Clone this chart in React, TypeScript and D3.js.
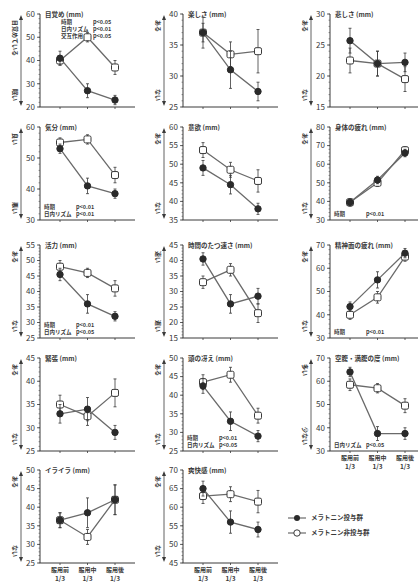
import React from "react";
import * as d3 from "d3";

const periods = ["服用前", "服用中", "服用後"];
const periodSub = "1/3";

const titles = [
  "目覚め (mm)", "楽しさ (mm)", "悲しさ (mm)",
  "気分 (mm)", "意欲 (mm)", "身体の疲れ (mm)",
  "活力 (mm)", "時間のたつ速さ (mm)", "精神面の疲れ (mm)",
  "緊張 (mm)", "頭の冴え (mm)", "空腹・満腹の度 (mm)",
  "イライラ (mm)", "爽快感 (mm)",
];
const topLabels = ["目覚めている", "ある", "ある", "良い", "ある", "ある", "ある", "速い", "ある", "ある", "ある", "多い", "ある", "ある"];
const bottomLabels = ["眠い", "ない", "ない", "悪い", "ない", "ない", "ない", "遅い", "ない", "ない", "ない", "少ない", "ない", "ない"];
const yDomains: [number, number][] = [
  [20, 60], [25, 40], [15, 30],
  [30, 60], [35, 60], [30, 80],
  [25, 55], [15, 45], [30, 70],
  [25, 45], [25, 50], [30, 70],
  [25, 50], [45, 70],
];
const yStep = [10, 5, 5, 10, 5, 10, 5, 5, 10, 5, 5, 10, 5, 5];

const melatonin = [
  [41, 27, 23], [37, 31, 27.5], [25.7, 22, 22.2],
  [53, 41, 38.5], [49, 44.5, 38], [39.5, 51.5, 66],
  [45.5, 36, 32], [40.5, 26, 28.5], [43.5, 55, 66.5],
  [33, 34, 29], [42.5, 33, 29], [64, 37.5, 37.5],
  [36.5, 38.5, 42], [65, 56, 54],
];
const melatoninErr = [
  [3, 3, 2], [2.5, 3, 1.5], [2, 2, 1.5],
  [1.5, 2.5, 1.5], [2, 2.5, 1.5], [2, 2, 2],
  [2, 3, 1.5], [2, 3, 2.5], [2, 3.5, 2],
  [2, 2.5, 1.5], [2, 2.5, 1.5], [2, 3, 2.5],
  [2, 4, 4], [2, 3, 2],
];
const control = [
  [40, 50, 37], [37, 33.5, 34], [22.5, 22, 19.5],
  [55, 56, 44.5], [53.8, 48.5, 45.5], [39.5, 50, 67.5],
  [48, 46, 41], [33, 37, 23], [40, 47.5, 65],
  [35, 32.5, 37.5], [43.5, 45.5, 34.5], [58.5, 57, 49.5],
  [36.5, 32, 42], [63, 63.5, 61.5],
];
const controlErr = [
  [2, 2, 3], [1.5, 2, 3.5], [2, 2, 2],
  [1.5, 1.5, 2.5], [2, 2, 3], [2, 2, 2],
  [2, 1.5, 2.5], [2, 2, 3], [2, 2.5, 2],
  [2, 2, 3], [2, 2, 2], [2.5, 2, 3],
  [2, 2, 4], [2, 2, 3],
];
const stats: [string, string][][] = [
  [["時期", "p<0.05"], ["日内リズム", "p<0.01"], ["交互作用", "p<0.05"]],
  [], [],
  [["時期", "p<0.01"], ["日内リズム", "p<0.01"]],
  [],
  [["時期", "p<0.01"]],
  [["時期", "p<0.01"], ["日内リズム", "p<0.05"]],
  [],
  [["時期", "p<0.01"]],
  [],
  [["時期", "p<0.01"], ["日内リズム", "p<0.05"]],
  [["日内リズム", "p<0.05"]],
  [], [],
];
const legendLabels = ["メラトニン投与群", "メラトニン非投与群"];

const colAxisX = [40, 183, 330];
const rowTop = [14, 127, 245, 358, 470];
const plotH = 93;
const FONT = "'Noto Sans CJK JP', 'Noto Sans', sans-serif";
const INK = "#3a3a3a";
const LINE = "#6a6a6a";

function Panel({ i }: { i: number }) {
  const col = i % 3;
  const row = Math.floor(i / 3);
  const ax = colAxisX[col];
  const top = rowTop[row];
  const bottom = top + plotH;
  const right = Math.min(ax + 95, 418);
  const [lo, hi] = yDomains[i];
  const y = d3.scaleLinear().domain([lo, hi]).range([bottom, top]);
  const x = d3.scaleLinear().domain([0, 2]).range([ax + 20, ax + 75]);
  const ticks = d3.range(lo, hi + 0.001, yStep[i]);
  const minor = d3.range(lo, hi + 0.001, yStep[i] / 5);
  const line = d3.line<number>().x((_, k) => x(k)).y((v) => y(v));
  const arrowX = ax - 19;
  const labelX = arrowX - 8;
  const st = stats[i];
  const statsTop = i === 0;
  const showX = i === 11 || i === 12 || i === 13;
  const renderSeries = (vals: number[], errs: number[], filled: boolean) => (
    <g>
      <path d={line(vals) || ""} fill="none" stroke={LINE} strokeWidth={1.3} />
      {vals.map((v, k) => (
        <g key={k}>
          <line x1={x(k)} x2={x(k)} y1={y(v - errs[k])} y2={y(v + errs[k])} stroke={INK} strokeWidth={0.8} />
          <line x1={x(k) - 1.5} x2={x(k) + 1.5} y1={y(v - errs[k])} y2={y(v - errs[k])} stroke={INK} strokeWidth={0.8} />
          <line x1={x(k) - 1.5} x2={x(k) + 1.5} y1={y(v + errs[k])} y2={y(v + errs[k])} stroke={INK} strokeWidth={0.8} />
          {filled ? (
            <circle cx={x(k)} cy={y(v)} r={3.2} fill="#2a2a2a" stroke="#2a2a2a" />
          ) : (
            <rect x={x(k) - 3.5} y={y(v) - 3.5} width={7} height={7} rx={1.5} fill="#fff" stroke={INK} strokeWidth={1} />
          )}
        </g>
      ))}
    </g>
  );
  return (
    <g fontFamily={FONT}>
      <line x1={ax} x2={ax} y1={top} y2={bottom} stroke={INK} strokeWidth={1} />
      <line x1={ax} x2={right} y1={bottom} y2={bottom} stroke={INK} strokeWidth={1} />
      {minor.map((t) => (
        <line key={"m" + t} x1={ax - 1.5} x2={ax} y1={y(t)} y2={y(t)} stroke={INK} strokeWidth={0.5} />
      ))}
      {ticks.map((t) => (
        <g key={t}>
          <line x1={ax - 3} x2={ax} y1={y(t)} y2={y(t)} stroke={INK} strokeWidth={0.8} />
          <text x={ax - 5} y={y(t)} dy="0.35em" textAnchor="end" fontSize={8} fill={INK}>{t}</text>
        </g>
      ))}
      {[0, 1, 2].map((k) => (
        <line key={k} x1={x(k)} x2={x(k)} y1={bottom} y2={bottom + 2} stroke={INK} strokeWidth={0.8} />
      ))}
      <line x1={arrowX} x2={arrowX} y1={top + 4} y2={bottom - 4} stroke={INK} strokeWidth={0.8} />
      <path d={`M${arrowX - 2},${top + 6} L${arrowX},${top + 1} L${arrowX + 2},${top + 6} Z`} fill={INK} />
      <path d={`M${arrowX - 2},${bottom - 6} L${arrowX},${bottom - 1} L${arrowX + 2},${bottom - 6} Z`} fill={INK} />
      <text transform={`translate(${labelX},${top + 6}) rotate(90)`} fontSize={6} fill={INK} fontWeight="bold">{topLabels[i]}</text>
      <text transform={`translate(${labelX},${bottom - 6}) rotate(90)`} fontSize={6} fill={INK} fontWeight="bold" textAnchor="end">{bottomLabels[i]}</text>
      <text x={ax + 5} y={top + 3} fontSize={6.5} fill={INK} fontWeight="bold">{titles[i]}</text>
      {st.map((s, k) => {
        const sy = statsTop ? top + 10 + k * 7 : bottom - 4 - (st.length - 1 - k) * 7;
        const sx = statsTop ? ax + 21 : ax + 4;
        return (
          <g key={k} fontSize={5.5} fill={INK} fontWeight="bold">
            <text x={sx} y={sy}>{s[0]}</text>
            <text x={sx + 32} y={sy}>{s[1]}</text>
          </g>
        );
      })}
      {renderSeries(control[i], controlErr[i], false)}
      {renderSeries(melatonin[i], melatoninErr[i], true)}
      {showX && periods.map((p, k) => (
        <g key={p} fontSize={6} fill={INK} fontWeight="bold" textAnchor="middle">
          <text x={x(k)} y={bottom + 9}>{p}</text>
          <text x={x(k)} y={bottom + 17.5} fontSize={6.5}>{periodSub}</text>
        </g>
      ))}
    </g>
  );
}

export default function App() {
  return (
    <svg width={420} height={585} style={{ position: "absolute", left: 0, top: 0, background: "#fff" }}>
      <rect width={420} height={585} fill="#fff" />
      {titles.map((_, i) => <Panel key={i} i={i} />)}
      <g fontFamily={FONT} fontSize={6.5} fill={INK} fontWeight="bold">
        <line x1={288} x2={306} y1={518} y2={518} stroke={LINE} strokeWidth={1.2} />
        <circle cx={297} cy={518} r={3} fill="#2a2a2a" />
        <text x={311} y={518} dy="0.35em">{legendLabels[0]}</text>
        <line x1={288} x2={306} y1={533} y2={533} stroke={LINE} strokeWidth={1.2} />
        <circle cx={297} cy={533} r={3.2} fill="#fff" stroke={INK} strokeWidth={1} />
        <text x={311} y={533} dy="0.35em">{legendLabels[1]}</text>
      </g>
    </svg>
  );
}
